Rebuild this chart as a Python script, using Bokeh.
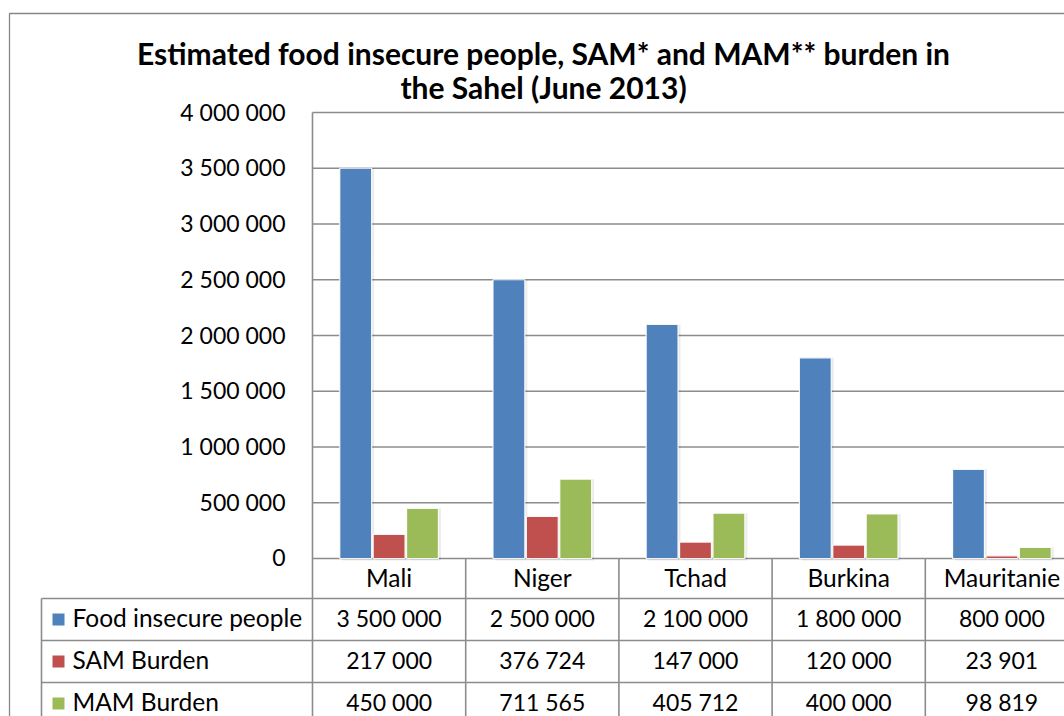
from bokeh.plotting import figure
from bokeh.models import Range1d, ColumnDataSource
from bokeh.core.properties import value
from bokeh.transform import dodge
from bokeh.embed import file_html
from bokeh.resources import INLINE

# ---- data -------------------------------------------------------------
countries = ["Mali", "Niger", "Tchad", "Burkina", "Mauritanie"]
food_insecure = [3500000, 2500000, 2100000, 1800000, 800000]
sam_burden = [217000, 376724, 147000, 120000, 23901]
mam_burden = [450000, 711565, 405712, 400000, 98819]
series_names = ["Food insecure people", "SAM Burden", "MAM Burden"]
y_ticks = [0, 500000, 1000000, 1500000, 2000000, 2500000, 3000000, 3500000, 4000000]
title_lines = ["Estimated food insecure people, SAM* and MAM** burden in",
               "the Sahel (June 2013)"]

# ---- layout / style ---------------------------------------------------
W, H = 1064, 716
PL, PR, PT, PB = 312, 1078, 112, 558      # plot area in page pixels
YMAX = y_ticks[-1]
ROW_TOP = 598                              # first data-table row
ROW_H = 42
TABLE_L = 41
COLORS = ["#4F81BD", "#C0504D", "#9BBB59"]
LINE = "#8c8c8c"
FONT = "Lato"
WORD_SIZE = "24.5px"
NUM_SIZE = "23px"

n = len(countries)
cat_px = (PR - PL) / n
val_px = (PB - PT) / YMAX

p = figure(width=W, height=H,
           x_range=Range1d(-PL / cat_px, (W - PL) / cat_px),
           y_range=Range1d(-(H - PB) / val_px, PB / val_px),
           x_axis_location=None, y_axis_location=None,
           toolbar_location=None, output_backend="svg",
           min_border=0, outline_line_color=None, title=None)
p.grid.visible = False
p.extra_x_ranges = {"px": Range1d(0, W)}
p.extra_y_ranges = {"py": Range1d(H, 0)}

# outer chart frame
p.line(x=[9, 9, W + 5], y=[H + 5, 13, 13], x_range_name="px", y_range_name="py",
       line_color="#878787", line_width=1.3)

# value gridlines
p.segment(x0=[0] * len(y_ticks), x1=[n] * len(y_ticks), y0=y_ticks, y1=y_ticks,
          line_color=LINE, line_width=1.6)

# vertical axis line / table column dividers
below = -(H - PB + 10) / val_px
p.segment(x0=[0], x1=[0], y0=[YMAX], y1=[below], line_color=LINE, line_width=1.6)
p.segment(x0=list(range(1, n + 1)), x1=list(range(1, n + 1)),
          y0=[0] * n, y1=[below] * n, line_color=LINE, line_width=1.6)

# bars, with a faint drop shadow like the spreadsheet style
src = ColumnDataSource(dict(x=[i + 0.5 for i in range(n)],
                            food=food_insecure, sam=sam_burden, mam=mam_burden))
for j, (col, color) in enumerate(zip(["food", "sam", "mam"], COLORS)):
    offset = (j - 1) * 0.218
    p.vbar(x=dodge("x", offset + 2.5 / cat_px, range=p.x_range), top=col,
           bottom=-2 / val_px, width=0.208, source=src, fill_color="#000000",
           fill_alpha=0.08, line_color=None)
    p.vbar(x=dodge("x", offset, range=p.x_range), top=col, width=0.208,
           source=src, fill_color=color, line_color="white", line_width=1.2,
           line_alpha=0.9)

# y tick labels
def fmt(v):
    return f"{v:,}".replace(",", " ")

p.text(x=[-27 / cat_px] * len(y_ticks), y=[v + 1 / val_px for v in y_ticks],
       text=[fmt(v) for v in y_ticks], text_align="right", text_baseline="middle",
       text_font=value(FONT), text_font_size=NUM_SIZE, text_color="black")

# title
p.text(x=[543, 543], y=[52, 86], text=title_lines, x_range_name="px",
       y_range_name="py", text_align="center", text_baseline="middle",
       text_font=value(FONT), text_font_style="bold", text_font_size="30px",
       text_color="black")

# data table: header row with category names
p.text(x=[i + 0.5 for i in range(n)], y=[(PB + ROW_TOP) / 2 - 1] * n,
       y_range_name="py", text=countries, text_align="center",
       text_baseline="middle", text_font=value(FONT), text_font_size=WORD_SIZE,
       text_color="black")

# table row rules
row_edges = [ROW_TOP + k * ROW_H for k in range(len(series_names))]
p.segment(x0=[TABLE_L] * len(row_edges), x1=[W + 5] * len(row_edges),
          y0=row_edges, y1=row_edges, x_range_name="px", y_range_name="py",
          line_color=LINE, line_width=1.6)
p.segment(x0=[TABLE_L], x1=[TABLE_L], y0=[ROW_TOP], y1=[H + 5],
          x_range_name="px", y_range_name="py", line_color=LINE, line_width=1.6)

row_mid = [e + ROW_H / 2 for e in row_edges]
# legend keys and series names
p.rect(x=[58] * 3, y=row_mid, width=12, height=12, x_range_name="px",
       y_range_name="py", fill_color=COLORS, line_color=None)
p.text(x=[72] * 3, y=[m - 2 for m in row_mid], text=series_names, x_range_name="px",
       y_range_name="py", text_align="left", text_baseline="middle",
       text_font=value(FONT), text_font_size=WORD_SIZE, text_color="black")

# table values
for series, m in zip([food_insecure, sam_burden, mam_burden], row_mid):
    p.text(x=[i + 0.5 for i in range(n)], y=[m - 2] * n, y_range_name="py",
           text=[fmt(v) for v in series], text_align="center",
           text_baseline="middle", text_font=value(FONT),
           text_font_size=NUM_SIZE, text_color="black")

open("out.html", "w").write(file_html(p, INLINE))
